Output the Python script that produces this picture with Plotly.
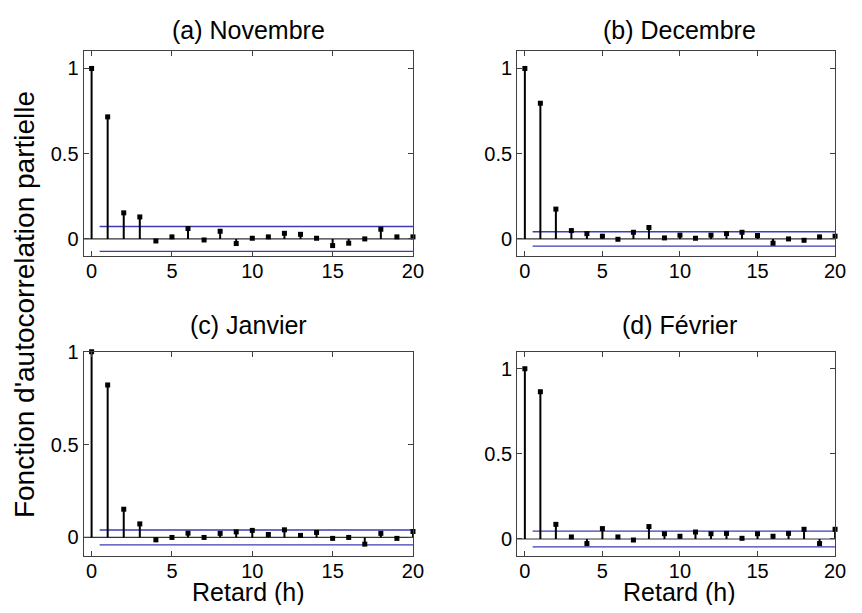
import plotly.graph_objects as go
from plotly.subplots import make_subplots

# lags (h) shared by all four panels
lags = list(range(21))

# partial autocorrelation values
pacf_novembre = [1.0, 0.716, 0.153, 0.129, -0.012, 0.012, 0.061, -0.006, 0.045, -0.027, 0.004,
                 0.012, 0.033, 0.027, 0.004, -0.039, -0.025, 0.0, 0.057, 0.012, 0.012]
pacf_decembre = [1.0, 0.796, 0.175, 0.049, 0.031, 0.016, -0.002, 0.039, 0.067, 0.006, 0.022,
                 0.004, 0.022, 0.031, 0.039, 0.020, -0.025, 0.0, -0.008, 0.012, 0.016]
pacf_janvier = [1.0, 0.821, 0.152, 0.073, -0.013, 0.0, 0.023, 0.0, 0.022, 0.030, 0.038,
                0.016, 0.041, 0.011, 0.027, -0.005, 0.0, -0.036, 0.022, -0.005, 0.032]
pacf_fevrier = [1.0, 0.865, 0.086, 0.012, -0.027, 0.061, 0.012, -0.006, 0.073, 0.031, 0.016,
                0.041, 0.031, 0.033, 0.004, 0.031, 0.016, 0.033, 0.057, -0.027, 0.057]

# confidence bounds (+/-)
bounds = [0.073, 0.042, 0.040, 0.046]

titles = ["(a) Novembre", "(b) Decembre", "(c) Janvier", "(d) Février"]
y_ranges = [[-0.1, 1.1], [-0.1, 1.1], [-0.1, 1.0], [-0.1, 1.1]]
x_ticks = [0, 5, 10, 15, 20]
y_ticks = [0, 0.5, 1]
y_tick_labels = ["0", "0.5", "1"]

series = [pacf_novembre, pacf_decembre, pacf_janvier, pacf_fevrier]

FONT = "Liberation Sans, Arial, sans-serif"
BLUE = "#3c3cb4"
FRAME = "#404040"

fig = make_subplots(rows=2, cols=2)

x_domains = [[0.0905, 0.4850], [0.6097, 0.9905]]
y_domains = [[0.5956, 0.9447], [0.0836, 0.4322]]

for i, values in enumerate(series):
    row, col = i // 2 + 1, i % 2 + 1

    # baseline
    fig.add_trace(go.Scatter(x=[-0.5, 20], y=[0, 0], mode="lines",
                             line=dict(color="#333333", width=1.2), hoverinfo="skip"),
                  row=row, col=col)
    # confidence bounds
    for sign in (1, -1):
        fig.add_trace(go.Scatter(x=[0.5, 20], y=[sign * bounds[i]] * 2, mode="lines",
                                 line=dict(color=BLUE, width=1.3), hoverinfo="skip"),
                      row=row, col=col)
    # stems
    sx, sy = [], []
    for lag, v in zip(lags, values):
        sx += [lag, lag, None]
        sy += [0, v, None]
    fig.add_trace(go.Scatter(x=sx, y=sy, mode="lines", line=dict(color="black", width=2),
                             cliponaxis=False, hoverinfo="skip"), row=row, col=col)
    # markers
    fig.add_trace(go.Scatter(x=lags, y=values, mode="markers", cliponaxis=False,
                             marker=dict(symbol="square", size=5, color="black")),
                  row=row, col=col)

    fig.update_xaxes(domain=x_domains[col - 1], range=[-0.5, 20], tickvals=x_ticks,
                     row=row, col=col)
    fig.update_yaxes(domain=y_domains[row - 1], range=y_ranges[i], tickvals=y_ticks,
                     ticktext=y_tick_labels, row=row, col=col)

fig.update_xaxes(showgrid=False, zeroline=False, showline=True, linecolor=FRAME, linewidth=1,
                 mirror="ticks", ticks="inside", ticklen=5, tickcolor=FRAME,
                 ticklabelstandoff=-3,
                 tickfont=dict(size=20, color="black", family=FONT))
fig.update_yaxes(showgrid=False, zeroline=False, showline=True, linecolor=FRAME, linewidth=1,
                 mirror="ticks", ticks="inside", ticklen=5, tickcolor=FRAME,
                 tickfont=dict(size=20, color="black", family=FONT))

col_centers = [0.2878, 0.8047]
annotations = []
title_y = [0.9816, 0.9816, 0.4779, 0.4779]
for i, text in enumerate(titles):
    annotations.append(dict(text=text, x=col_centers[i % 2], y=title_y[i],
                            xref="paper", yref="paper",
                            xanchor="center", yanchor="middle", showarrow=False,
                            font=dict(size=25, color="black", family=FONT)))
for x in col_centers:
    annotations.append(dict(text="Retard (h)", x=x, y=0.0219, xref="paper", yref="paper",
                            xanchor="center", yanchor="middle", showarrow=False,
                            font=dict(size=25, color="black", family=FONT)))
annotations.append(dict(text="Fonction d'autocorrelation partielle", x=0.0201, y=0.5131,
                        xref="paper", yref="paper", xanchor="center", yanchor="middle",
                        textangle=-90, showarrow=False,
                        font=dict(size=28, color="black", family=FONT)))

fig.update_layout(
    width=846, height=597,
    margin=dict(l=0, r=0, t=0, b=0),
    plot_bgcolor="white", paper_bgcolor="white",
    showlegend=False,
    annotations=annotations,
)

fig.write_html("out.html")
